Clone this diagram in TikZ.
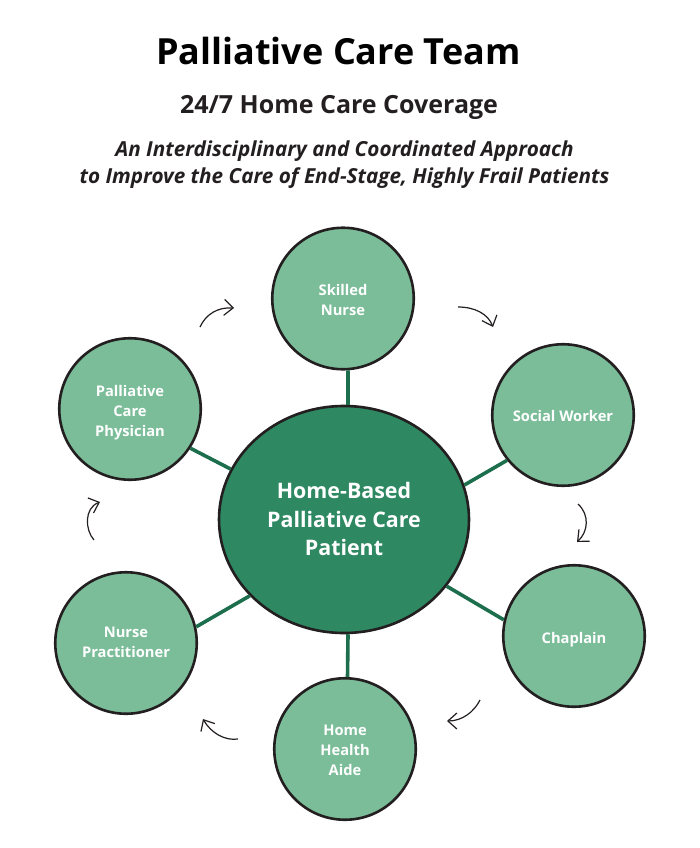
\documentclass[tikz,border=0pt]{standalone}
\usepackage{fontspec}
\setmainfont{Open Sans}
\usetikzlibrary{shapes.geometric,arrows.meta}
\definecolor{light}{HTML}{7BBD99}
\definecolor{dark}{HTML}{2E8862}
\definecolor{spokec}{HTML}{1C6E4C}
\definecolor{ink}{HTML}{231F20}
\newcommand{\lowered}[2]{\raisebox{-#1}[\height][\depth]{\def\arraystretch{1}\begin{tabular}{@{}c@{}}#2\end{tabular}}}
\tikzset{
 member/.style={circle,draw=ink,line width=2.6pt,fill=light,minimum size=141.5pt,inner sep=0pt,align=center,text=white,font=\fontsize{14.7}{20}\selectfont\bfseries},
 hubnode/.style={ellipse,draw=ink,line width=2.6pt,fill=dark,minimum width=250pt,minimum height=227pt,inner sep=0pt,align=center,text=white,font=\fontsize{21.4}{28.5}\selectfont\bfseries},
 spoke/.style={draw=spokec,line width=3.6pt},
 cyc/.style={draw=ink,line width=1.2pt,-{Straight Barb[length=9pt,width=16pt,line width=1.2pt]}},
 titlet/.style={text=black,font=\fontsize{36}{42}\selectfont\bfseries},
 subt/.style={text=ink,font=\fontsize{25}{30}\selectfont\bfseries},
 ital/.style={text=ink,align=center,font=\fontsize{20.7}{27}\selectfont\bfseries\itshape},
}
\begin{document}
\begin{tikzpicture}[x=1pt,y=-1pt]
\useasboundingbox (0,0) rectangle (700,848);
\node[titlet] (title) at (338.5,51) {Palliative Care Team};
\node[subt] (sub) at (339,107.5) {24/7 Home Care Coverage};
\node[ital] (desc) at (344.5,165) {An Interdisciplinary and Coordinated Approach\\to Improve the Care of End-Stage, Highly Frail Patients};
\node[hubnode] (hub) at (344,519.5) {\lowered{2pt}{Home-Based\\Palliative Care\\Patient}};
\node[member] (nurse) at (343,298.5) {\lowered{2.5pt}{Skilled\\Nurse}};
\node[member] (social) at (563,415) {\lowered{2pt}{Social Worker}};
\node[member] (chap) at (574,636) {\lowered{3.5pt}{Chaplain}};
\node[member] (aide) at (345,749) {\lowered{2pt}{Home\\Health\\Aide}};
\node[member] (np) at (126,643) {\lowered{0.5pt}{Nurse\\Practitioner}};
\node[member] (phys) at (130,409) {\lowered{3pt}{Palliative\\Care\\Physician}};
\draw[spoke] (hub.88.5) -- (nurse.-86.8);
\draw[spoke] (hub.16.4) -- (social.219.9);
\draw[spoke] (hub.-33.6) -- (chap.167);
\draw[spoke] (hub.-88.5) -- (aide.88.4);
\draw[spoke] (hub.219.5) -- (np.13);
\draw[spoke] (hub.156.5) -- (phys.-33.7);
\coordinate (a1) at (200,327); \coordinate (b1) at (234,308);
\coordinate (a2) at (458,307); \coordinate (b2) at (493,327);
\coordinate (a3) at (578,504); \coordinate (b3) at (577,542);
\coordinate (a4) at (480,700); \coordinate (b4) at (447,721);
\coordinate (a5) at (238,739); \coordinate (b5) at (203,719);
\coordinate (a6) at (94,540); \coordinate (b6) at (100,502);
\draw[cyc] (a1) .. controls (206,314) and (218,307) .. (b1);
\draw[cyc] (a2) .. controls (475,307) and (488,314) .. (b2);
\draw[cyc] (a3) .. controls (590,515) and (588,532) .. (b3);
\draw[cyc] (a4) .. controls (474,712) and (462,721) .. (b4);
\draw[cyc] (a5) .. controls (225,741) and (211,733) .. (b5);
\draw[cyc] (a6) .. controls (85,530) and (84,508) .. (b6);
\end{tikzpicture}
\end{document}
